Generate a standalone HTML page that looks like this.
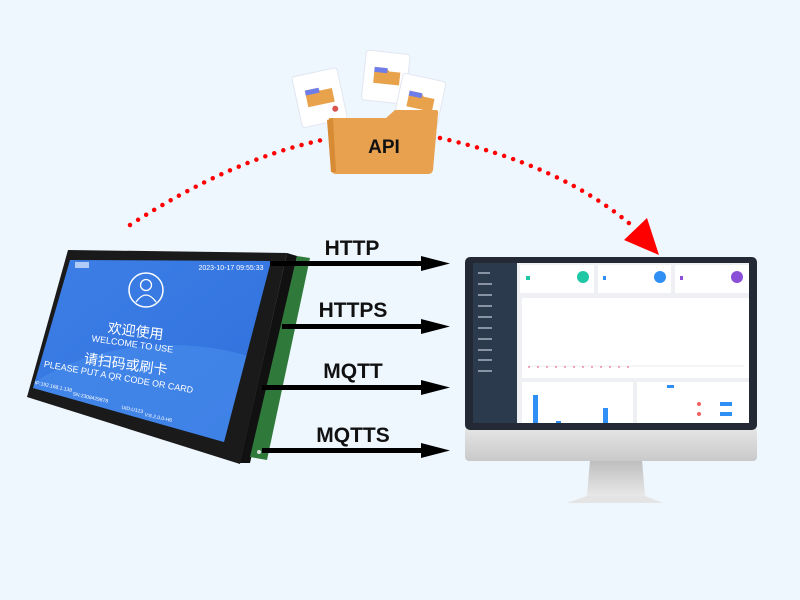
<!DOCTYPE html>
<html><head><meta charset="utf-8"><style>
html,body{margin:0;padding:0;}
body{width:800px;height:600px;background:#eef6fe;position:relative;overflow:hidden;font-family:"Liberation Sans","Noto Sans CJK SC",sans-serif;}
svg{position:absolute;left:0;top:0;}
</style></head><body>
<svg width="800" height="600" viewBox="0 0 800 600">
<defs>
<linearGradient id="chin" x1="0" y1="0" x2="0" y2="1"><stop offset="0" stop-color="#e6e6e6"/><stop offset="1" stop-color="#c9c9c9"/></linearGradient>
<linearGradient id="neck" x1="0" y1="0" x2="0" y2="1"><stop offset="0" stop-color="#bdbdbd"/><stop offset="1" stop-color="#e8e8e8"/></linearGradient>
<linearGradient id="scr" x1="0" y1="0" x2="1" y2="1"><stop offset="0" stop-color="#3d7fe6"/><stop offset="1" stop-color="#2f6fdc"/></linearGradient>
<clipPath id="scrclip"><polygon points="70,260 271,261 224,442 33,388"/></clipPath>
</defs>

<!-- dotted arcs -->
<path d="M130,225 Q230,160 322,140" fill="none" stroke="#f00" stroke-width="4.5" stroke-linecap="round" stroke-dasharray="0 9.5"/>
<path d="M440,138 Q560,165 630,224" fill="none" stroke="#f00" stroke-width="4.5" stroke-linecap="round" stroke-dasharray="0 9.5"/>
<polygon points="624,240 647,218 659,255" fill="#f00"/>

<!-- papers -->
<g transform="rotate(-12 318 95)"><rect x="296" y="72" width="46" height="52" rx="3" fill="#fff" stroke="#e2e6f2"/><path d="M306 88h12l3 3h12v14h-27z" fill="#e9a24c"/><rect x="306" y="88" width="14" height="5" fill="#6f7de8"/><circle cx="332" cy="112" r="3" fill="#d9534f"/></g>
<g transform="rotate(6 385 75)"><rect x="364" y="52" width="44" height="50" rx="3" fill="#fff" stroke="#e2e6f2"/><path d="M374 68h12l3 3h11v13h-26z" fill="#e9a24c"/><rect x="374" y="68" width="13" height="5" fill="#6f7de8"/></g>
<g transform="rotate(12 420 100)"><rect x="398" y="77" width="44" height="50" rx="3" fill="#fff" stroke="#e2e6f2"/><path d="M408 93h12l3 3h11v13h-26z" fill="#e9a24c"/><rect x="408" y="93" width="13" height="5" fill="#6f7de8"/></g>
<!-- folder -->
<path d="M329,118 L386,118 L395,110 L436,110 Q439,110 438,114 L433,170 Q432,174 428,174 L336,174 Q332,174 331,170 Z" fill="#e8a24f"/>
<path d="M327,120 L333,118 L336,172 L331,172 Z" fill="#d88b35"/>
<text x="384" y="153" font-size="19" font-weight="bold" text-anchor="middle" fill="#111">API</text>

<!-- tablet -->
<polygon points="287,253 297,256 250,463 240,463" fill="#111"/>
<polygon points="297,256 310,258 267,460 250,457" fill="#2f7a3a"/>
<circle cx="302" cy="264" r="2" fill="#ddd"/><circle cx="259" cy="452" r="2" fill="#ddd"/>
<polygon points="68,250 287,253 240,464 27,397" fill="#1a1a1a"/>
<polygon points="70,260 271,261 224,442 33,388" fill="url(#scr)"/>
<g clip-path="url(#scrclip)"><ellipse cx="170" cy="470" rx="190" ry="125" fill="#4a8ded" opacity="0.6"/></g>
<circle cx="146" cy="290" r="17" fill="none" stroke="#fff" stroke-width="1.5"/>
<circle cx="146" cy="285" r="5.5" fill="none" stroke="#fff" stroke-width="1.3"/>
<path d="M136,302 Q146,288 156,302" fill="none" stroke="#fff" stroke-width="1.3"/>
<g fill="#fff" text-anchor="middle">
<text x="231" y="270" font-size="7">2023-10-17 09:55:33</text>
<text transform="translate(135,336) rotate(7)" font-size="14">欢迎使用</text>
<text transform="translate(132,347) rotate(8)" font-size="9">WELCOME TO USE</text>
<text transform="translate(125,369) rotate(8)" font-size="14">请扫码或刷卡</text>
<text transform="translate(118,380) rotate(10)" font-size="9">PLEASE PUT A QR CODE OR CARD</text>
<text transform="translate(53,388) rotate(12)" font-size="5">IP:192.168.1.138</text>
<text transform="translate(90,399) rotate(12)" font-size="5">SN:2308429878</text>
<text transform="translate(132,411) rotate(12)" font-size="5">UID:U123</text>
<text transform="translate(158,419) rotate(12)" font-size="5">V:6.2.0.0-H6</text>
</g>
<rect x="75" y="262" width="14" height="6" fill="#fff" opacity="0.6"/>

<!-- arrows -->
<g fill="#000">
<rect x="270" y="261" width="155" height="5"/><polygon points="421,256 450,263.5 421,271"/>
<rect x="282" y="324" width="143" height="5"/><polygon points="421,319 450,326.5 421,334"/>
<rect x="262" y="385" width="163" height="5"/><polygon points="421,380 450,387.5 421,395"/>
<rect x="262" y="448" width="163" height="5"/><polygon points="421,443 450,450.5 421,458"/>
</g>
<g font-size="21" font-weight="bold" text-anchor="middle" fill="#111">
<text x="352" y="255">HTTP</text>
<text x="353" y="317">HTTPS</text>
<text x="353" y="378">MQTT</text>
<text x="353" y="442">MQTTS</text>
</g>

<!-- monitor -->
<polygon points="590,460 642,460 645,496 587,496" fill="url(#neck)"/>
<polygon points="587,496 645,496 663,503 567,503" fill="#e4e4e4"/>
<rect x="465" y="427" width="292" height="34" rx="4" fill="url(#chin)"/>
<rect x="465" y="257" width="292" height="173" rx="5" fill="#232a36"/>
<rect x="473" y="263" width="276" height="160" fill="#eef0f3"/>
<rect x="473" y="263" width="44" height="160" fill="#2c3a4d"/>
<g fill="#8894a6"><rect x="478" y="272" width="12" height="2"/><rect x="478" y="283" width="14" height="2"/><rect x="478" y="294" width="14" height="2"/><rect x="478" y="305" width="14" height="2"/><rect x="478" y="316" width="14" height="2"/><rect x="478" y="327" width="14" height="2"/><rect x="478" y="338" width="14" height="2"/><rect x="478" y="349" width="14" height="2"/><rect x="478" y="359" width="14" height="2"/><rect x="478" y="370" width="14" height="2"/></g>
<g fill="#fff">
<rect x="520" y="265" width="74" height="28"/><rect x="598" y="265" width="73" height="28"/><rect x="675" y="265" width="74" height="28"/>
<rect x="522" y="298" width="227" height="80"/>
<rect x="522" y="382" width="111" height="41"/><rect x="637" y="382" width="112" height="41"/>
</g>
<circle cx="583" cy="277" r="6" fill="#1fc7a5"/><circle cx="660" cy="277" r="6" fill="#2f8ff5"/><circle cx="737" cy="277" r="6" fill="#8a4fd6"/>
<rect x="526" y="276" width="4" height="4" fill="#1fc7a5"/><rect x="603" y="276" width="3" height="4" fill="#2f8ff5"/><rect x="680" y="276" width="3" height="4" fill="#8a4fd6"/>
<line x1="528" y1="366" x2="744" y2="366" stroke="#ddd" stroke-width="0.6"/>
<line x1="528" y1="367" x2="632" y2="367" stroke="#e6577a" stroke-width="1" stroke-dasharray="2 7"/>
<rect x="533" y="395" width="5" height="28" fill="#2f8ff5"/><rect x="603" y="408" width="5" height="15" fill="#2f8ff5"/><rect x="556" y="421" width="5" height="2" fill="#2f8ff5"/>
<circle cx="699" cy="404" r="2" fill="#f06060"/><circle cx="699" cy="414" r="2" fill="#f06060"/>
<rect x="720" y="402" width="12" height="4" fill="#2f8ff5"/><rect x="720" y="412" width="12" height="4" fill="#2f8ff5"/>
<rect x="667" y="385" width="7" height="3" fill="#2f8ff5"/>
</svg>
</body></html>
